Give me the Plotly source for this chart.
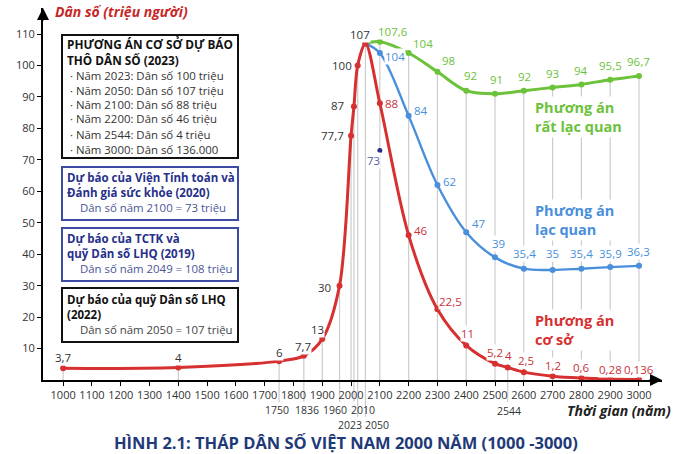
import plotly.graph_objects as go

# ---------------- DATA ----------------
base_years = [1000, 1400, 1750, 1836, 1900, 1960, 2000, 2010, 2023, 2050, 2100, 2200,
              2300, 2400, 2500, 2544, 2600, 2700, 2800, 2900, 3000]
base_pop = [3.7, 4, 6, 7.7, 13, 30, 77.7, 87, 100, 107, 88, 46,
            22.5, 11, 5.2, 4, 2.5, 1.2, 0.6, 0.28, 0.136]
base_labels = ["3,7", "4", "6", "7,7", "13", "30", "77,7", "87", "100", "107", "88", "46",
               "22,5", "11", "5,2", "4", "2,5", "1,2", "0,6", "0,28", "0,136"]

opt_years = [2050, 2100, 2200, 2300, 2400, 2500, 2600, 2700, 2800, 2900, 3000]
opt_pop = [107, 104, 84, 62, 47, 39, 35.4, 35, 35.4, 35.9, 36.3]
opt_labels = ["", "104", "84", "62", "47", "39", "35,4", "35", "35,4", "35,9", "36,3"]

vopt_years = [2050, 2100, 2200, 2300, 2400, 2500, 2600, 2700, 2800, 2900, 3000]
vopt_pop = [107, 107.6, 104, 98, 92, 91, 92, 93, 94, 95.5, 96.7]
vopt_labels = ["", "107,6", "104", "98", "92", "91", "92", "93", "94", "95,5", "96,7"]

ihme_years = [2100]
ihme_pop = [73]
ihme_labels = ["73"]

x_tick_vals = list(range(1000, 3001, 100))
y_tick_vals = list(range(10, 111, 10))
extra_years = [1750, 1836, 1960, 2010, 2023, 2050, 2544]

box1_lines = ["PHƯƠNG ÁN CƠ SỞ DỰ BÁO", "THÔ DÂN SỐ (2023)",
              "· Năm 2023: Dân số 100 triệu", "· Năm 2050: Dân số 107 triệu",
              "· Năm 2100: Dân số 88 triệu", "· Năm 2200: Dân số 46 triệu",
              "· Năm 2544: Dân số 4 triệu", "· Năm 3000: Dân số 136.000"]
box2_lines = ["Dự báo của Viện Tính toán và", "Đánh giá sức khỏe (2020)",
              "Dân số năm 2100 = 73 triệu"]
box3_lines = ["Dự báo của TCTK và", "quỹ Dân số LHQ (2019)",
              "Dân số năm 2049 = 108 triệu"]
box4_lines = ["Dự báo của quỹ Dân số LHQ", "(2022)",
              "Dân số năm 2050 = 107 triệu"]

# ---------------- STYLE / LAYOUT HELPERS ----------------
W, H = 680, 454
L, R, T, B = 43, 18, 8, 74
PW, PH = W - L - R, H - T - B
XR = [930, 3080]
YR = [0, 118.3]
FONT = "Open Sans"

RED = "#d63031"
RED_TXT = "#c8323a"
BLUE = "#4a8fdc"
GREEN = "#6cc23a"
GRAY_LINE = "#cccccc"
DARK = "#333333"


def px(xp):
    return (xp - L) / PW


def py(yp):
    return (H - B - yp) / PH


base_off = [(0, 11), (0, 10), (0, 9), (-1, 9), (-5, 10), (-15, -2), (-19, 0), (-16, 1),
            (-16, 0), (-5, 9), (12, 0), (12, 5), (13, 8), (1, 12), (0, 11), (1, 12),
            (2, 12), (0, 11), (0, 11), (0, 10), (0, 10)]
opt_off = [(0, 0), (15, -4), (12, 5), (12, 4), (12, 9), (3, 14), (1, 15), (0, 16),
           (0, 15), (0, 14), (0, 14)]
vopt_off = [(0, 0), (13, 10), (14, 9), (11, 11), (4, 15), (1, 14), (1, 14), (0, 14),
            (0, 14), (0, 14), (0, 14)]
ihme_off = [(-6, -10)]

fig = go.Figure()

# ---------------- DROP LINES ----------------
shapes = []
tops = {}
for yr, v in zip(base_years, base_pop):
    tops[yr] = max(tops.get(yr, 0), v)
for yr, v in zip(vopt_years, vopt_pop):
    tops[yr] = max(tops.get(yr, 0), v)
for yr, v in tops.items():
    shapes.append(dict(type="line", xref="x", yref="y", x0=yr, x1=yr, y0=0, y1=v,
                       line=dict(color=GRAY_LINE, width=1.2), layer="below"))
ext_len = {1750: 22, 1836: 22, 1960: 22, 2010: 22, 2023: 37, 2050: 37, 2544: 22}
for yr in extra_years:
    shapes.append(dict(type="line", xref="x", yref="paper", x0=yr, x1=yr,
                       y0=-ext_len[yr] / PH, y1=0,
                       line=dict(color=GRAY_LINE, width=1.2), layer="below"))

# ---------------- BOXES ----------------
boxes = [(62, 238, 35, 158, "#111111"), (62, 238, 167, 220, "#3d4aa3"),
         (62, 238, 228, 281, "#3d4aa3"), (62, 238, 288, 342, "#111111")]
for x0, x1, y0, y1, c in boxes:
    shapes.append(dict(type="rect", xref="paper", yref="paper", x0=px(x0), x1=px(x1),
                       y0=py(y1), y1=py(y0), fillcolor="white",
                       line=dict(color=c, width=2), layer="above"))

# ---------------- TRACES ----------------
fig.add_trace(go.Scatter(x=vopt_years, y=vopt_pop, mode="lines+markers",
                         line=dict(color=GREEN, width=3, shape="spline", smoothing=1.0),
                         marker=dict(size=6, color=GREEN), hoverinfo="skip"))
fig.add_trace(go.Scatter(x=opt_years, y=opt_pop, mode="lines+markers",
                         line=dict(color=BLUE, width=2.4, shape="spline", smoothing=1.0),
                         marker=dict(size=6, color=BLUE), hoverinfo="skip"))
fig.add_trace(go.Scatter(x=base_years, y=base_pop, mode="lines+markers",
                         line=dict(color=RED, width=3, shape="spline", smoothing=0.9),
                         marker=dict(size=6, color=RED), hoverinfo="skip"))
fig.add_trace(go.Scatter(x=ihme_years, y=ihme_pop, mode="markers",
                         marker=dict(size=5, color="#2b2f8a"), hoverinfo="skip"))

# ---------------- ANNOTATIONS ----------------
ann = []


def lab(x, y, t, dx, dy, color, size=11.5):
    ann.append(dict(x=x, y=y, xref="x", yref="y", text=t, showarrow=False,
                    xshift=dx, yshift=dy, xanchor="center", yanchor="middle",
                    font=dict(family=FONT, size=size, color=color),
                    bgcolor="white", borderpad=0))


for i, (x, y, t) in enumerate(zip(base_years, base_pop, base_labels)):
    col = DARK if x <= 2050 else RED_TXT
    lab(x, y, t, base_off[i][0], base_off[i][1], col)
for i, (x, y, t) in enumerate(zip(opt_years, opt_pop, opt_labels)):
    if t:
        lab(x, y, t, opt_off[i][0], opt_off[i][1], BLUE)
for i, (x, y, t) in enumerate(zip(vopt_years, vopt_pop, vopt_labels)):
    if t:
        lab(x, y, t, vopt_off[i][0], vopt_off[i][1], GREEN)
for i, (x, y, t) in enumerate(zip(ihme_years, ihme_pop, ihme_labels)):
    lab(x, y, t, ihme_off[i][0], ihme_off[i][1], "#5560a8")

# series names
for txt, col, ytop in [("Phương án<br>rất lạc quan", GREEN, 96),
                       ("Phương án<br>lạc quan", BLUE, 199),
                       ("Phương án<br>cơ sở", RED, 309)]:
    ann.append(dict(x=px(533), y=py(ytop), xref="paper", yref="paper", text="<b>" + txt + "</b>",
                    showarrow=False, xanchor="left", yanchor="top", align="left",
                    font=dict(family=FONT, size=14.5, color=col), bgcolor="white", borderpad=1))

# second-row x labels
extra_pos = {1750: (-2, 410), 1836: (3, 410), 1960: (-5, 410), 2010: (9, 410),
             2023: (-8, 425), 2050: (12, 425), 2544: (1, 411)}
for yr in extra_years:
    dx, yp = extra_pos[yr]
    ann.append(dict(x=yr, y=py(yp), xref="x", yref="paper", text=str(yr), showarrow=False,
                    xshift=dx, xanchor="center", yanchor="middle",
                    font=dict(family=FONT, size=10.5, color=DARK)))


# box texts
def box_text(lines, ys, bold_n, col_b, col_r, indent_x, bsize, rsize):
    for i, (t, yp) in enumerate(zip(lines, ys)):
        bold = i < bold_n
        ann.append(dict(x=px(65 if bold else indent_x), y=py(yp), xref="paper", yref="paper",
                        text=("<b>" + t + "</b>") if bold else t, showarrow=False,
                        xanchor="left", yanchor="middle",
                        font=dict(family=FONT, size=bsize if bold else rsize,
                                  color=col_b if bold else col_r)))


box_text(box1_lines, [43.5, 60.5, 75.5, 90, 104.5, 119, 134, 149], 2, "#111111", "#333333", 68,
         11.8, 11.4)
box_text(box2_lines, [177, 192, 207], 2, "#27308a", "#4a5599", 78, 11.5, 11.4)
box_text(box3_lines, [238, 253, 268], 2, "#27308a", "#4a5599", 78, 11.5, 11.4)
box_text(box4_lines, [299, 314, 329.5], 2, "#111111", "#444444", 78, 11.5, 11.4)

# axis titles
ann.append(dict(x=px(53), y=py(12), xref="paper", yref="paper",
                text="<b><i>Dân số (triệu người)</i></b>", showarrow=False,
                xanchor="left", yanchor="middle",
                font=dict(family=FONT, size=14, color="#c62828")))
ann.append(dict(x=px(673), y=py(410), xref="paper", yref="paper",
                text="<b><i>Thời gian (năm)</i></b>", showarrow=False,
                xanchor="right", yanchor="middle",
                font=dict(family=FONT, size=14, color="#222222")))
ann.append(dict(x=px(346), y=py(442), xref="paper", yref="paper",
                text="<b>HÌNH 2.1: THÁP DÂN SỐ VIỆT NAM 2000 NĂM (1000 -3000)</b>",
                showarrow=False, xanchor="center", yanchor="middle",
                font=dict(family=FONT, size=16.5, color="#1f3a78")))

# axis arrows
ann.append(dict(x=0, y=1, xref="paper", yref="paper", ax=0, ay=14, text="", showarrow=True,
                arrowhead=2, arrowsize=1.2, arrowwidth=2, arrowcolor="black"))
ann.append(dict(x=1, y=0, xref="paper", yref="paper", ax=-14, ay=0, text="", showarrow=True,
                arrowhead=2, arrowsize=1.2, arrowwidth=2, arrowcolor="black"))

fig.update_layout(
    width=W, height=H,
    margin=dict(l=L, r=R, t=T, b=B, autoexpand=False),
    paper_bgcolor="white", plot_bgcolor="white",
    showlegend=False,
    shapes=shapes, annotations=ann,
    font=dict(family=FONT, size=11, color=DARK),
    xaxis=dict(range=XR, tickvals=x_tick_vals, ticktext=[str(v) for v in x_tick_vals],
               showgrid=False, zeroline=False, showline=True, linecolor="black", linewidth=2,
               ticks="outside", ticklen=4, tickwidth=1.2, tickcolor="black", automargin=False,
               tickfont=dict(family=FONT, size=11, color=DARK), fixedrange=True),
    yaxis=dict(range=YR, tickvals=y_tick_vals, showgrid=False, zeroline=False,
               showline=True, linecolor="black", linewidth=2, automargin=False,
               ticks="outside", ticklen=4, tickwidth=1.2, tickcolor="black",
               tickfont=dict(family=FONT, size=11, color=DARK), fixedrange=True),
)

fig.write_html("out.html", config={"displayModeBar": False},
               post_script="document.body.style.margin='0';document.body.style.overflow='hidden';")
